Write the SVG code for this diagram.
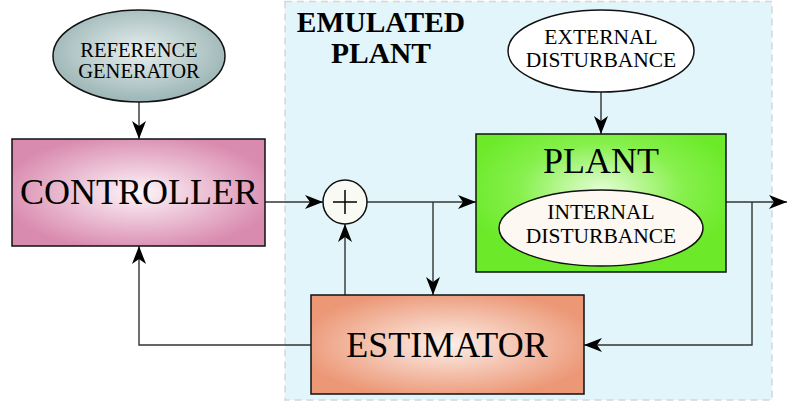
<svg xmlns="http://www.w3.org/2000/svg" width="787" height="402" viewBox="0 0 787 402">
<defs>
<radialGradient id="gCtrl" cx="50%" cy="50%" r="55%">
<stop offset="0" stop-color="#fdf5f9"/>
<stop offset="1" stop-color="#d98aaf"/>
</radialGradient>
<radialGradient id="gEst" cx="50%" cy="50%" r="55%">
<stop offset="0" stop-color="#fcefe8"/>
<stop offset="1" stop-color="#ec9877"/>
</radialGradient>
<radialGradient id="gRef" cx="50%" cy="45%" r="60%">
<stop offset="0" stop-color="#e6efee"/>
<stop offset="1" stop-color="#95b0b0"/>
</radialGradient>
<radialGradient id="gPlant" cx="50%" cy="40%" r="55%">
<stop offset="0" stop-color="#e4fdd4"/>
<stop offset="0.6" stop-color="#86f04c"/>
<stop offset="1" stop-color="#6cea2a"/>
</radialGradient>
<marker id="arr" viewBox="0 0 18 14" refX="18" refY="7" markerWidth="18" markerHeight="14" markerUnits="userSpaceOnUse" orient="auto">
<path d="M0,0 L18,7 L0,14 L5,7 Z" fill="#000"/>
</marker>
</defs>
<style>
.box{stroke:#111;stroke-width:1.5}
.t{font-family:"Liberation Serif","Times New Roman",serif;fill:#000;text-anchor:middle}
.big{font-size:36px}
.sm{font-size:21.5px}
.c{fill:none;stroke:#333;stroke-width:1.4}
.a{marker-end:url(#arr)}
</style>
<g id="emulated-plant">
<rect x="285" y="1.5" width="487" height="398.5" fill="#e2f5fa" stroke="#d6d6d6" stroke-width="1.5" stroke-dasharray="7,5"/>
<text class="t" x="381" y="32" font-size="29.5" font-weight="bold">EMULATED</text>
<text class="t" x="381" y="63" font-size="29.5" font-weight="bold">PLANT</text>
</g>
<g id="connectors">
<line class="c a" x1="139" y1="102" x2="139" y2="139"/>
<line class="c a" x1="265" y1="202" x2="323" y2="202"/>
<line class="c a" x1="367" y1="202" x2="476" y2="202"/>
<line class="c a" x1="433" y1="202" x2="433" y2="295"/>
<line class="c a" x1="601" y1="92" x2="601" y2="134"/>
<line class="c a" x1="726" y1="202" x2="787" y2="202"/>
<polyline class="c a" points="752,202 752,345 584,345"/>
<polyline class="c a" points="311,345 139,345 139,246"/>
<line class="c a" x1="345" y1="295" x2="345" y2="224"/>
</g>
<g id="reference-generator">
<ellipse cx="139" cy="56" rx="86" ry="46" fill="url(#gRef)" class="box"/>
<text class="t" x="139" y="57" font-size="20.5">REFERENCE</text>
<text class="t" x="139" y="78" font-size="20.5">GENERATOR</text>
</g>
<g id="controller">
<rect x="12" y="139" width="253" height="107" fill="url(#gCtrl)" class="box"/>
<text class="t big" x="139" y="204">CONTROLLER</text>
</g>
<g id="sum">
<circle cx="345" cy="202" r="22" fill="#f8faf3" class="box"/>
<path d="M333,202 H357 M345,190 V214" stroke="#000" stroke-width="1.5"/>
</g>
<g id="external-disturbance">
<ellipse cx="601" cy="51" rx="93" ry="41" fill="#ffffff" class="box"/>
<text class="t sm" x="601" y="44">EXTERNAL</text>
<text class="t sm" x="601" y="67">DISTURBANCE</text>
</g>
<g id="plant">
<rect x="476" y="134" width="250" height="138" fill="url(#gPlant)" class="box"/>
<text class="t big" x="601" y="173">PLANT</text>
</g>
<g id="internal-disturbance">
<ellipse cx="601" cy="228" rx="102" ry="38" fill="#fdf8f2" class="box"/>
<text class="t sm" x="601" y="219">INTERNAL</text>
<text class="t sm" x="601" y="243">DISTURBANCE</text>
</g>
<g id="estimator">
<rect x="311" y="295" width="273" height="99" fill="url(#gEst)" class="box"/>
<text class="t big" x="447" y="357">ESTIMATOR</text>
</g>
</svg>
